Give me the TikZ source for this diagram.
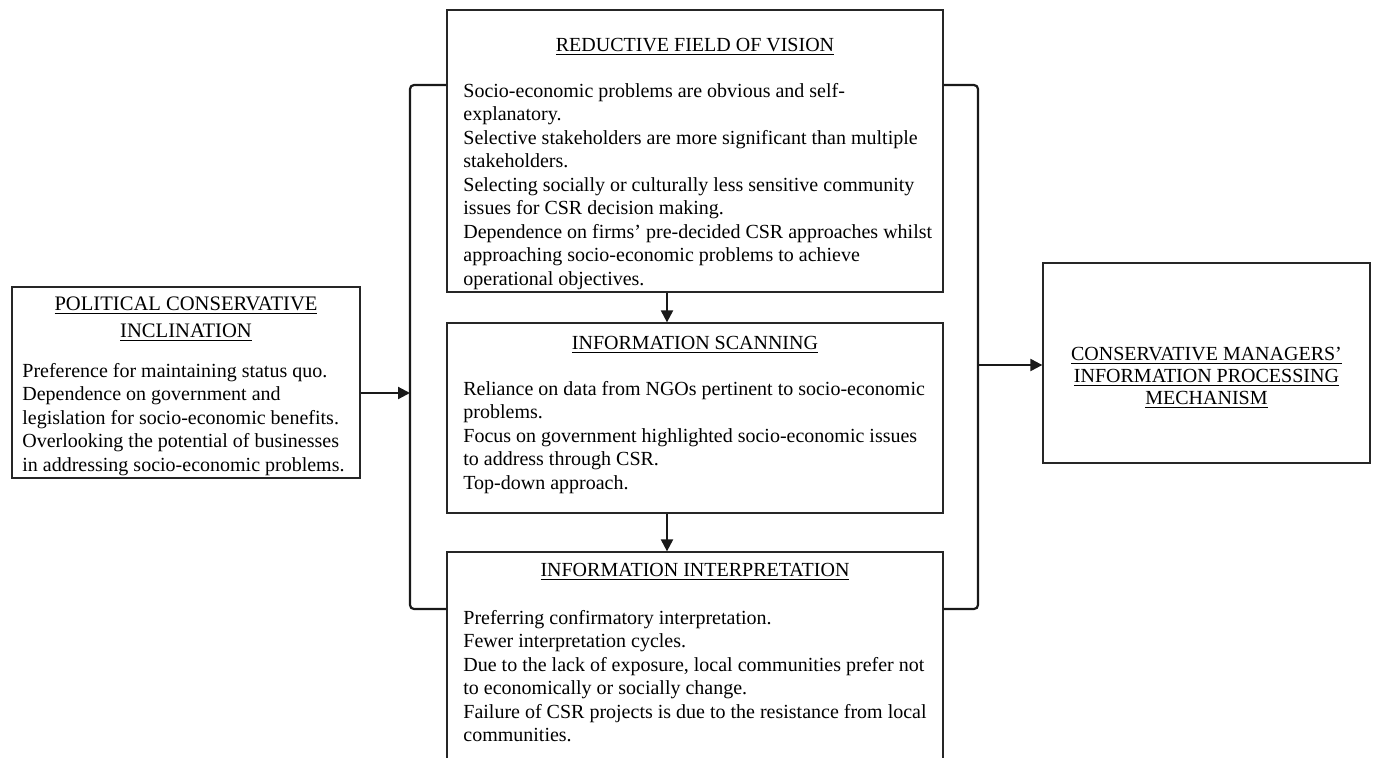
\documentclass[tikz,border=0pt]{standalone}
\usepackage{fontspec}
\setmainfont{Liberation Serif}
\usepackage{tikz}
\usetikzlibrary{arrows.meta, positioning, calc}

\tikzset{
  box/.style={draw=black!85, line width=0.65pt, minimum width=248pt, inner sep=0pt},
  boxtitle/.style={font=\fontsize{10}{11}\selectfont, align=center, inner sep=0pt},
  boxbody/.style={font=\fontsize{10}{11.75}\selectfont, align=left, inner sep=0pt, anchor=north west},
  bracket/.style={draw=black!90, line width=1.1pt, rounded corners=2pt},
  flow/.style={draw=black!90, line width=1.1pt, -{Triangle[length=6pt, width=6pt]}}
}

\begin{document}
\begin{tikzpicture}[x=0.5pt, y=-0.5pt]
    \useasboundingbox (0,0) rectangle (1373,757);

    % Boxes (centres in pixel coordinates)
    \node[box, minimum width=174pt, minimum height=95.5pt] (lbox) at (186,382.5) {};
    \node[box, minimum height=141pt] (tbox) at (695,151) {};
    \node[box, minimum height=95pt] (mbox) at (695,418) {};
    \node[box, minimum height=124pt] (bbox) at (695,676) {};
    \node[box, minimum width=163.5pt, minimum height=100pt] (rbox) at (1206.5,363) {};

    % Left box: political inclination
    \node[boxtitle, font=\fontsize{10.3}{13.5}\selectfont] (ltitle) at (186,319) {\underline{POLITICAL CONSERVATIVE}\\\underline{INCLINATION}};
    \node[boxbody] (lbody) at (22,363) {Preference for maintaining status quo.\\
      Dependence on government and\\
      legislation for socio-economic benefits.\\
      Overlooking the potential of businesses\\
      in addressing socio-economic problems.};

    % Top box: reductive field of vision
    \node[boxtitle] (ttitle) at (695,47) {\underline{REDUCTIVE FIELD OF VISION}};
    \node[boxbody] (tbody) at (463,83) {Socio-economic problems are obvious and self-\\
      explanatory.\\
      Selective stakeholders are more significant than multiple\\
      stakeholders.\\
      Selecting socially or culturally less sensitive community\\
      issues for CSR decision making.\\
      Dependence on firms’ pre-decided CSR approaches whilst\\
      approaching socio-economic problems to achieve\\
      operational objectives.};

    % Middle box: information scanning
    \node[boxtitle] (mtitle) at (695,345) {\underline{INFORMATION SCANNING}};
    \node[boxbody] (mbody) at (463,381) {Reliance on data from NGOs pertinent to socio-economic\\
      problems.\\
      Focus on government highlighted socio-economic issues\\
      to address through CSR.\\
      Top-down approach.};

    % Bottom box: information interpretation
    \node[boxtitle] (btitle) at (695,572) {\underline{INFORMATION INTERPRETATION}};
    \node[boxbody] (bbody) at (463,610) {Preferring confirmatory interpretation.\\
      Fewer interpretation cycles.\\
      Due to the lack of exposure, local communities prefer not\\
      to economically or socially change.\\
      Failure of CSR projects is due to the resistance from local\\
      communities.};

    % Right box: outcome
    \node[boxtitle] (rtitle) at (1206.5,378) {\underline{CONSERVATIVE MANAGERS’}\\\underline{INFORMATION PROCESSING}\\\underline{MECHANISM}};

    % Brackets round the three middle boxes
    \coordinate (lbtop) at (410,85);
    \coordinate (lbbot) at (410,609);
    \coordinate (rbtop) at (978,85);
    \coordinate (rbbot) at (978,609);
    \draw[bracket] (tbox.west |- lbtop) -- (lbtop) -- (lbbot) -- (bbox.west |- lbbot);
    \draw[bracket] (tbox.east |- rbtop) -- (rbtop) -- (rbbot) -- (bbox.east |- rbbot);

    % Connectors
    \coordinate (lin) at (410,393);
    \coordinate (rout) at (978,365);
    \coordinate (ax) at (667,0);
    \draw[flow] (lin -| lbox.east) -- (lin);
    \draw[flow] (rout) -- (rout -| rbox.west);
    \draw[flow] (ax |- tbox.south) -- (ax |- mbox.north);
    \draw[flow] (ax |- mbox.south) -- (ax |- bbox.north);
  \end{tikzpicture}
\end{document}
